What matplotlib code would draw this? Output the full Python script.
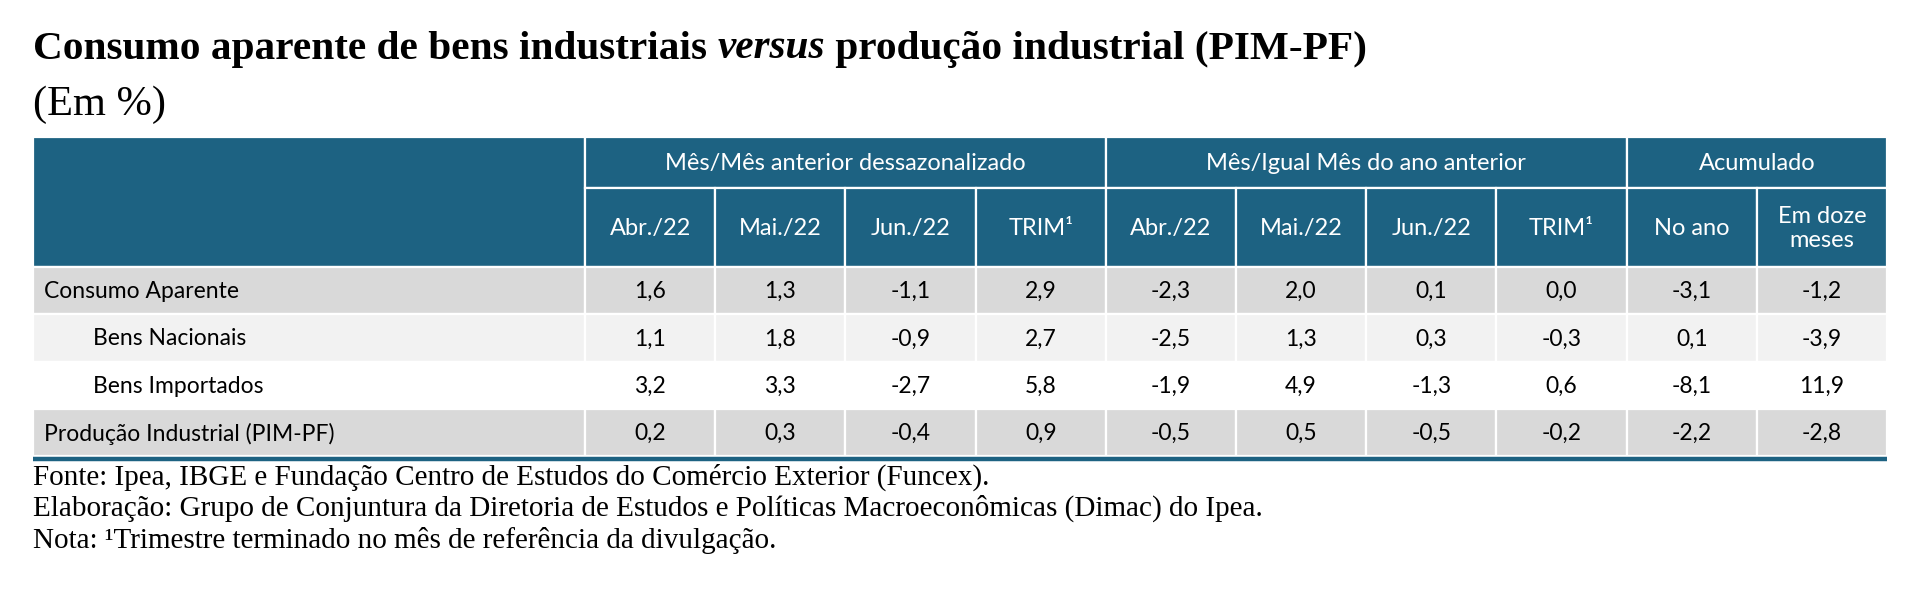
import matplotlib
matplotlib.use("Agg")
import matplotlib.pyplot as plt
from matplotlib.patches import Rectangle

# ---------------- data ----------------
title_main = "Consumo aparente de bens industriais "
title_italic = "versus"
title_end = " produção industrial (PIM-PF)"
subtitle = "(Em %)"

group_headers = ["Mês/Mês anterior dessazonalizado", "Mês/Igual Mês do ano anterior", "Acumulado"]
group_spans = [4, 4, 2]
sub_headers = ["Abr./22", "Mai./22", "Jun./22", "TRIM¹",
               "Abr./22", "Mai./22", "Jun./22", "TRIM¹",
               "No ano", "Em doze\nmeses"]

row_labels = ["Consumo Aparente", "Bens Nacionais", "Bens Importados", "Produção Industrial (PIM-PF)"]
row_indent = [False, True, True, False]

consumo_aparente = [1.6, 1.3, -1.1, 2.9, -2.3, 2.0, 0.1, 0.0, -3.1, -1.2]
bens_nacionais = [1.1, 1.8, -0.9, 2.7, -2.5, 1.3, 0.3, -0.3, 0.1, -3.9]
bens_importados = [3.2, 3.3, -2.7, 5.8, -1.9, 4.9, -1.3, 0.6, -8.1, 11.9]
pim_pf = [0.2, 0.3, -0.4, 0.9, -0.5, 0.5, -0.5, -0.2, -2.2, -2.8]
values = [consumo_aparente, bens_nacionais, bens_importados, pim_pf]

footnotes = [
    "Fonte: Ipea, IBGE e Fundação Centro de Estudos do Comércio Exterior (Funcex).",
    "Elaboração: Grupo de Conjuntura da Diretoria de Estudos e Políticas Macroeconômicas (Dimac) do Ipea.",
    "Nota: ¹Trimestre terminado no mês de referência da divulgação.",
]

# ---------------- style ----------------
HEAD = "#1D6282"
ROW_COLORS = ["#D9D9D9", "#F2F2F2", "#FFFFFF", "#D9D9D9"]
SANS = ["Lato", "DejaVu Sans"]
SERIF = ["Liberation Serif", "DejaVu Serif"]
FS_HEAD = 17
FS_BODY = 16.5

W, H = 1920, 605
fig = plt.figure(figsize=(W / 100, H / 100), dpi=100)
ax = fig.add_axes([0, 0, 1, 1])
ax.set_xlim(0, W)
ax.set_ylim(H, 0)
ax.axis("off")

# layout
x_left, x_first, x_right = 33, 585, 1887
ncol = len(sub_headers)
cw = (x_right - x_first) / ncol
col_x = [x_first + i * cw for i in range(ncol + 1)]
y_top, y_grp, y_sub = 137, 188, 267
row_h = 47.3
edge = dict(edgecolor="white", linewidth=1.6)

def fmt(v):
    return f"{v:.1f}".replace(".", ",")

# header - stub cell
ax.add_patch(Rectangle((x_left, y_top), x_first - x_left, y_sub - y_top, facecolor=HEAD, **edge))
# group headers
c = 0
for g, span in zip(group_headers, group_spans):
    x0, x1 = col_x[c], col_x[c + span]
    ax.add_patch(Rectangle((x0, y_top), x1 - x0, y_grp - y_top, facecolor=HEAD, **edge))
    ax.text((x0 + x1) / 2, (y_top + y_grp) / 2 + 1, g, ha="center", va="center",
            color="white", fontsize=FS_HEAD, family=SANS)
    c += span
# sub headers
for i, s in enumerate(sub_headers):
    x0, x1 = col_x[i], col_x[i + 1]
    ax.add_patch(Rectangle((x0, y_grp), x1 - x0, y_sub - y_grp, facecolor=HEAD, **edge))
    ax.text((x0 + x1) / 2, (y_grp + y_sub) / 2 + 1, s, ha="center", va="center",
            color="white", fontsize=FS_HEAD, family=SANS, linespacing=1.15)

# body
for r, (lab, ind, vals) in enumerate(zip(row_labels, row_indent, values)):
    y0 = y_sub + r * row_h
    ax.add_patch(Rectangle((x_left, y0), x_first - x_left, row_h, facecolor=ROW_COLORS[r], **edge))
    ax.text(x_left + (60 if ind else 11), y0 + row_h / 2 + 1, lab, ha="left", va="center",
            color="black", fontsize=FS_BODY, family=SANS)
    for i, v in enumerate(vals):
        x0, x1 = col_x[i], col_x[i + 1]
        ax.add_patch(Rectangle((x0, y0), x1 - x0, row_h, facecolor=ROW_COLORS[r], **edge))
        ax.text((x0 + x1) / 2, y0 + row_h / 2 + 1, fmt(v), ha="center", va="center",
                color="black", fontsize=FS_BODY, family=SANS)

y_bot = y_sub + len(values) * row_h
ax.plot([x_left, x_right], [y_bot + 3, y_bot + 3], color=HEAD, linewidth=3.2, solid_capstyle="butt")

# title
TS = 29.7
t1 = ax.text(x_left, 49, title_main, ha="left", va="center", fontsize=TS,
             fontweight="bold", family=SERIF, color="black")
fig.canvas.draw()
r = fig.canvas.get_renderer()
bb = t1.get_window_extent(r)
inv = ax.transData.inverted()
xe = inv.transform((bb.x1, bb.y0))[0]
t2 = ax.text(xe, 49, title_italic, ha="left", va="center", fontsize=TS,
             fontweight="bold", fontstyle="italic", family=SERIF, color="black")
bb2 = t2.get_window_extent(r)
xe2 = inv.transform((bb2.x1, bb2.y0))[0]
ax.text(xe2, 49, title_end, ha="left", va="center", fontsize=TS,
        fontweight="bold", family=SERIF, color="black")
ax.text(x_left, 105, subtitle, ha="left", va="center", fontsize=30.5, family=SERIF, color="black")

# footnotes
for k, fn in enumerate(footnotes):
    ax.text(x_left, 477 + k * 31.5, fn, ha="left", va="center", fontsize=21,
            family=SERIF, color="black")

fig.savefig("out.png", dpi=100, facecolor="white")
